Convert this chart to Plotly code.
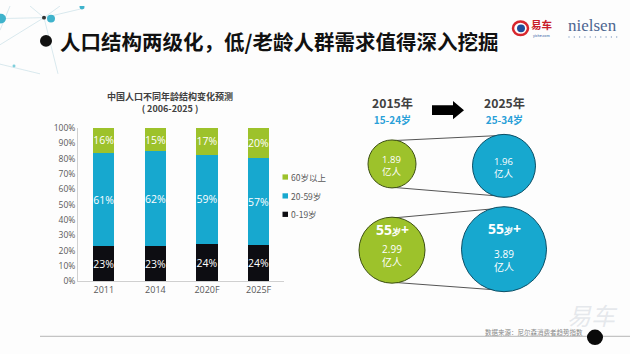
import math
import plotly.graph_objects as go

# ---------------- data ----------------
years = ["2011", "2014", "2020F", "2025F"]
age_0_19 = [22.7, 22.8, 24.0, 23.6]
age_20_59 = [61.1, 62.1, 58.7, 56.6]
age_60_plus = [16.2, 15.1, 17.3, 19.8]
series_names = ["0-19岁", "20-59岁", "60岁以上"]
y_ticks = [0, 10, 20, 30, 40, 50, 60, 70, 80, 90, 100]

bubble_years = ["2015年", "2025年"]
bubble_age_young = ["15-24岁", "25-34岁"]
young_pop = [1.89, 1.96]      # 亿人
old_pop = [2.99, 3.89]        # 亿人, 55岁+

# ---------------- style ----------------
W, H = 630, 354
GREEN = "#9dc22b"
BLUE = "#17a8cf"
BLACK = "#0d0d12"
FONT = "Noto Sans CJK SC"
NUMFONT = "Open Sans, Noto Sans CJK SC"
colors = [BLACK, BLUE, GREEN]

fig = go.Figure()

for vals, name, col in zip([age_0_19, age_20_59, age_60_plus], series_names, colors):
    fig.add_trace(go.Bar(
        x=years, y=vals, name=name, marker=dict(color=col, line=dict(width=0)),
        text=vals, texttemplate="%{y:.0f}%", textposition="inside",
        insidetextanchor="middle", textangle=0,
        textfont=dict(color="white", size=10.5, family="Open Sans"),
        showlegend=False, xaxis="x", yaxis="y"))

# bubble geometry (layout)
col_x = [392, 504]
row_y_young = [163, 165]
row_y_old = [252, 251]
diam_young = [48, 63]
diam_old = [66, 85]
bub_colors = [GREEN, BLUE]
bub_lines = ["#3c4f12", "#0c4f66"]

fig.add_trace(go.Scatter(
    x=col_x + col_x, y=row_y_young + row_y_old, mode="markers",
    customdata=young_pop + old_pop,
    marker=dict(size=diam_young + diam_old, color=bub_colors + bub_colors,
                opacity=1, line=dict(color=bub_lines + bub_lines, width=1)),
    showlegend=False, hoverinfo="skip", xaxis="x2", yaxis="y2"))

shapes = []

def tangents(c1, r1, c2, r2):
    dx, dy = c2[0] - c1[0], c2[1] - c1[1]
    D = math.hypot(dx, dy)
    phi = math.atan2(dy, dx)
    a = math.acos((r1 - r2) / D)
    out = []
    for s in (1, -1):
        th = phi + s * a
        nx, ny = math.cos(th), math.sin(th)
        out.append(((c1[0] + r1 * nx, c1[1] + r1 * ny), (c2[0] + r2 * nx, c2[1] + r2 * ny)))
    return out

for ys, ds in [(row_y_young, diam_young), (row_y_old, diam_old)]:
    for p, q in tangents((col_x[0], ys[0]), ds[0] / 2, (col_x[1], ys[1]), ds[1] / 2):
        shapes.append(dict(type="line", xref="x2", yref="y2", x0=p[0], y0=p[1],
                           x1=q[0], y1=q[1], line=dict(color="#555555", width=1), layer="below"))

# arrow
shapes.append(dict(type="path", xref="x2", yref="y2",
                   path="M432,102.5 L453,102.5 L453,98 L464,107.5 L453,117 L453,112.5 L432,112.5 Z",
                   fillcolor="black", line=dict(width=0)))
# header bullet
shapes.append(dict(type="circle", xref="x2", yref="y2", x0=40, y0=30, x1=52, y1=42,
                   fillcolor="#111111", line=dict(width=0)))
# bottom rule
shapes.append(dict(type="line", xref="x2", yref="y2", x0=40, y0=341, x1=630, y1=341,
                   line=dict(color="#c4c4c4", width=1.2)))
# bottom black dot
shapes.append(dict(type="circle", xref="x2", yref="y2", x0=587, y0=334, x1=603, y1=350,
                   fillcolor="#0a0a0a", line=dict(width=0)))
# top-left network decoration
for (a, b) in [((0, 13), (44, 12)), ((44, 12), (30, 0)), ((44, 12), (58, 70)),
               ((0, 40), (44, 12)), ((44, 12), (85, 2)), ((0, 60), (40, 70)),
               ((10, 0), (0, 25)), ((60, 0), (44, 12))]:
    shapes.append(dict(type="line", xref="x2", yref="y2", x0=a[0], y0=a[1], x1=b[0], y1=b[1],
                       line=dict(color="#cfe3ea", width=0.8), layer="below"))
for (cx, cy, r, c) in [(1, 13, 5, "#3fb3cc"), (51, 13, 4, "#3fb3cc"), (44, 12, 2, "#333333"),
                       (82, 1, 2.5, "#3fb3cc"), (14, 62, 1.5, "#7fcfdc")]:
    shapes.append(dict(type="circle", xref="x2", yref="y2", x0=cx - r, y0=cy - r,
                       x1=cx + r, y1=cy + r, fillcolor=c, line=dict(width=0)))
# yiche logo
shapes.append(dict(type="circle", xref="x2", yref="y2", x0=513, y0=16, x1=528, y1=30,
                   fillcolor="white", line=dict(color="#d7272e", width=2.5)))
shapes.append(dict(type="circle", xref="x2", yref="y2", x0=517, y0=19, x1=525, y1=27,
                   fillcolor="#1f4e9c", line=dict(width=0)))
# nielsen dotted line
for i in range(10):
    xx = 569 + i * 5.3
    shapes.append(dict(type="circle", xref="x2", yref="y2", x0=xx - 0.7, y0=31.3,
                       x1=xx + 0.7, y1=32.7, fillcolor="#8aa4c8", line=dict(width=0)))

# ---------------- annotations ----------------
ann = []

def A(x, y, text, size=10, color="#404040", xanchor="center", family=FONT, **kw):
    ann.append(dict(x=x, y=y, xref="x2", yref="y2", text=text, showarrow=False,
                    xanchor=xanchor, yanchor="middle", borderpad=0,
                    font=dict(size=size, color=color, family=family), **kw))

A(59, 36, "<b>人口结构两级化，低/老龄人群需求值得深入挖掘</b>", size=20.5,
  color="#111111", xanchor="left")
A(530, 19.5, "<b>易车</b>", size=10.5, color="#c8202a", xanchor="left")
A(541, 30.5, "yiche.com", size=3.5, color="#1f4e9c")
A(592, 20, "nielsen", size=17, color="#4d6690", family="Liberation Serif")

A(170, 100, "<b>中国人口不同年龄结构变化预测<br>( 2006-2025 )</b>", size=9,
  color="#404040")

# manual legend
leg_y = [176.5, 196, 215]
for name, col, ly in zip(series_names[::-1], colors[::-1], leg_y):
    shapes.append(dict(type="rect", xref="x2", yref="y2", x0=282.5, y0=ly - 2.7,
                       x1=288, y1=ly + 2.7, fillcolor=col, line=dict(width=0)))
    A(289.5, ly, name, size=8.5, color="#595959", xanchor="left")

for cx, yr, ag in zip(col_x, bubble_years, bubble_age_young):
    A(cx, 107.5, "<b>" + yr + "<br><span style='font-size:10px;color:#2aa0d8'>" + ag
      + "</span></b>", size=12.2, color="#404040")

for cx, cy, v in zip(col_x, row_y_young, young_pop):
    A(cx, cy + 2, f"{v:.2f}<br>亿人", size=9.5, color="white", family=NUMFONT)

old_label_y = [(231, 257.5), (230, 262.5)]
for cx, (ly, vy), v in zip(col_x, old_label_y, old_pop):
    A(cx, ly, "<b>55<span style='font-size:9px'>岁</span>+</b>", size=14, color="white",
      family="Open Sans")
    A(cx, vy, f"{v:.2f}<br>亿人", size=10, color="white", family=NUMFONT)

A(484, 336, "数据来源：尼尔森消费者趋势指数", size=6.5, color="#8a8a8a", xanchor="left")
A(592, 318, "<i>易车</i>", size=24, color="rgba(200,205,215,0.45)")

fig.update_layout(
    width=W, height=H, margin=dict(l=0, r=0, t=0, b=0),
    paper_bgcolor="#fdfdfd", plot_bgcolor="rgba(0,0,0,0)",
    barmode="stack", bargap=0.59, showlegend=False,
    uniformtext=dict(minsize=10.5, mode="show"),
    font=dict(family=FONT),
    xaxis=dict(domain=[78 / W, 284.4 / W], anchor="y", showgrid=False,
               showline=True, linecolor="#d0d0d0", linewidth=1,
               tickfont=dict(size=9, color="#595959", family="Open Sans"),
               ticks="", fixedrange=True),
    yaxis=dict(domain=[1 - 284 / H, 1 - 126 / H], anchor="x", range=[0, 100],
               tickvals=y_ticks, ticktext=[f"{t}%" for t in y_ticks],
               showgrid=False, showline=True, linecolor="#d0d0d0", linewidth=1,
               tickfont=dict(size=8.5, color="#595959", family="Open Sans"),
               ticks="", ticklen=0, fixedrange=True),
    xaxis2=dict(domain=[0, 1], anchor="y2", range=[0, W], visible=False, fixedrange=True),
    yaxis2=dict(domain=[0, 1], anchor="x2", range=[H, 0], visible=False, fixedrange=True),
    shapes=shapes, annotations=ann,
)

fig.write_html("out.html")
